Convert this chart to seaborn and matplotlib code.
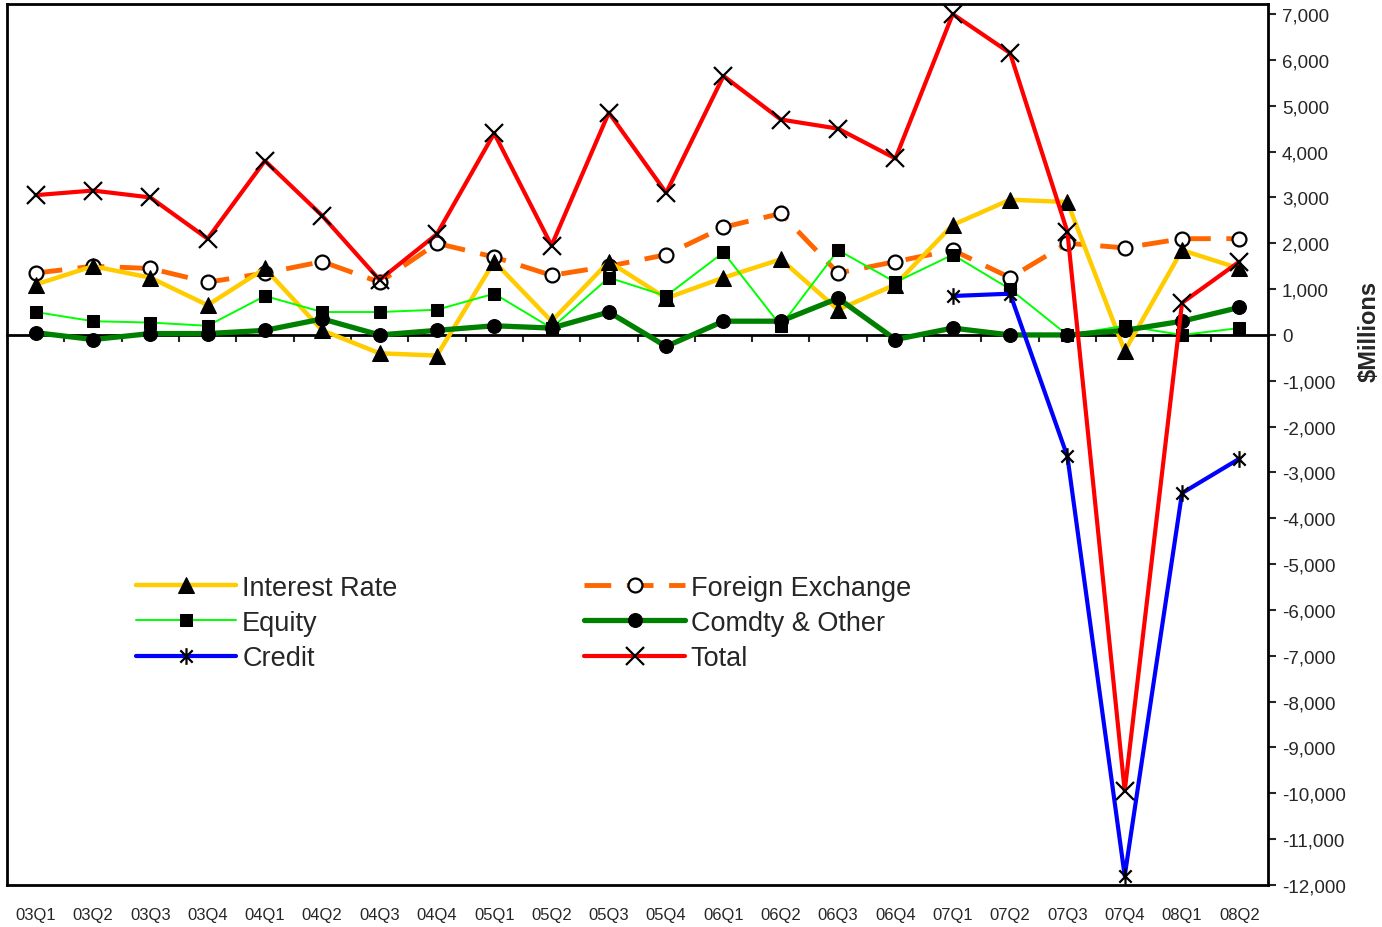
import numpy as np
import pandas as pd
import matplotlib
matplotlib.use("Agg")
import matplotlib.pyplot as plt
import seaborn as sns
from matplotlib.path import Path
from matplotlib.ticker import FuncFormatter, FixedLocator

# Data ($ millions)
QUARTERS = ["03Q1", "03Q2", "03Q3", "03Q4", "04Q1", "04Q2", "04Q3", "04Q4",
            "05Q1", "05Q2", "05Q3", "05Q4", "06Q1", "06Q2", "06Q3", "06Q4",
            "07Q1", "07Q2", "07Q3", "07Q4", "08Q1", "08Q2"]
INTEREST_RATE = [1100, 1500, 1250, 650, 1450, 100, -400, -450, 1600, 300, 1600, 800,
                 1250, 1650, 550, 1100, 2400, 2950, 2900, -350, 1850, 1450]
FOREIGN_EXCHANGE = [1350, 1500, 1450, 1150, 1350, 1600, 1150, 2000, 1700, 1300, 1500, 1750,
                    2350, 2650, 1350, 1600, 1850, 1250, 2000, 1900, 2100, 2100]
EQUITY = [500, 300, 270, 200, 850, 500, 500, 550, 900, 150, 1250, 850,
          1800, 200, 1850, 1150, 1750, 1000, 0, 200, 0, 150]
COMDTY = [50, -100, 30, 30, 100, 350, 0, 100, 200, 150, 500, -250,
          300, 300, 800, -100, 150, 0, 0, 100, 300, 600]
CREDIT = [None] * 16 + [850, 900, -2650, -11800, -3450, -2700]
TOTAL = [3050, 3150, 3000, 2100, 3800, 2600, 1200, 2200, 4400, 1950, 4850, 3100,
         5650, 4700, 4500, 3850, 7000, 6150, 2250, -9950, 700, 1600]


def star_marker():
    """Excel-style star: an x with a vertical bar."""
    verts = [(-1, -1), (1, 1), (-1, 1), (1, -1), (0, -1.35), (0, 1.35)]
    codes = [Path.MOVETO, Path.LINETO] * 3
    return Path(verts, codes)


def draw_series(ax, values, **kw):
    df = pd.DataFrame({"Quarter": QUARTERS, "Value": values}).dropna()
    sns.lineplot(data=df, x="Quarter", y="Value", ax=ax, sort=False, **kw)
    return ax.lines[-1]


def main():
    sns.set_style("white")
    plt.rcParams["font.family"] = ["Liberation Sans", "DejaVu Sans"]

    fig = plt.figure(figsize=(13.82, 9.28), dpi=100)
    ax = fig.add_axes([7 / 1382, 1 - 886 / 928, 1261 / 1382, 881 / 928])

    fx = draw_series(ax, FOREIGN_EXCHANGE, color="#FF6600", lw=3.5,
                     linestyle=(0, (5.5, 3.2)), marker="o", ms=10,
                     mfc="white", mec="black", mew=1.6, label="Foreign Exchange")
    ir = draw_series(ax, INTEREST_RATE, color="#FFCC00", lw=3.2, marker="^",
                     ms=11, mfc="black", mec="black", label="Interest Rate")
    eq = draw_series(ax, EQUITY, color="#00FF00", lw=1.4, marker="s",
                     ms=9, mfc="black", mec="black", label="Equity")
    cm = draw_series(ax, COMDTY, color="#008000", lw=3.8, marker="o",
                     ms=10, mfc="black", mec="black", label="Comdty & Other")
    cr = draw_series(ax, CREDIT, color="#0000FF", lw=3.0, marker=star_marker(),
                     ms=12, mfc="none", mec="black", mew=1.6, label="Credit")
    tot = draw_series(ax, TOTAL, color="#FF0000", lw=3.0, marker="x",
                      ms=13, mec="black", mew=1.6, label="Total")

    ax.set_xlim(-0.5, len(QUARTERS) - 0.5)
    ax.set_ylim(-12000, 7220)

    # right-hand value axis
    ax.yaxis.tick_right()
    ax.set_yticks(np.arange(-12000, 7001, 1000))
    ax.yaxis.set_major_formatter(FuncFormatter(lambda v, p: f"{v:,.0f}"))
    ax.tick_params(axis="y", direction="out", length=6, width=1.5,
                   labelsize=13.5, pad=4, right=True, left=False)
    ax.set_ylabel("$Millions", fontsize=17, fontweight="bold", rotation=90)
    ax.yaxis.set_label_coords(1.089, 0.63)

    # category labels at the bottom, no tick marks
    ax.tick_params(axis="x", length=0, labelsize=12, pad=16)
    ax.set_xlabel("")

    for side in ["left", "right", "top", "bottom"]:
        ax.spines[side].set_color("black")
        ax.spines[side].set_linewidth(2)

    # zero line with boundary ticks
    zero_frac = (0 - (-12000)) / (7220 - (-12000))
    zax = ax.secondary_xaxis(zero_frac)
    zax.xaxis.set_major_locator(FixedLocator(np.arange(0.5, len(QUARTERS) - 1, 1.0)))
    zax.xaxis.set_ticks_position("bottom")
    zax.tick_params(axis="x", which="major", direction="out", length=5, width=1.5,
                    labelbottom=False, labeltop=False)
    for side in ["bottom", "top"]:
        zax.spines[side].set_linewidth(2)
        zax.spines[side].set_color("black")

    handles = [ir, eq, cr, fx, cm, tot]
    labels = [h.get_label() for h in handles]
    ax.legend(handles, labels, ncol=2, frameon=False, fontsize=19.5,
              loc="upper left", bbox_to_anchor=(0.083, 0.38),
              handlelength=3.7, handletextpad=0.22, labelspacing=0.34,
              columnspacing=6.9, numpoints=1)

    fig.savefig("out.png", dpi=100)


if __name__ == "__main__":
    main()
